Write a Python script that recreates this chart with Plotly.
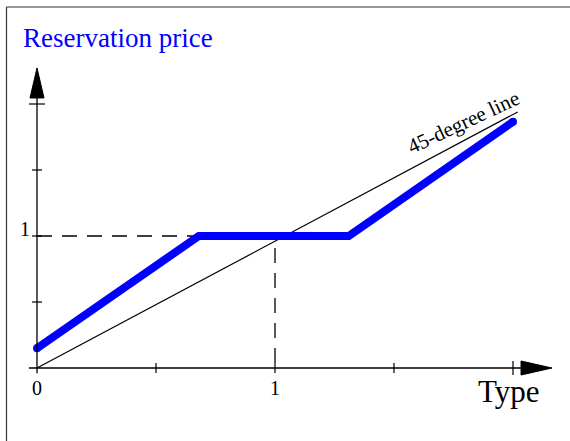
import plotly.graph_objects as go

# ---- data ----
type_x = [0.0, 0.68, 1.31, 2.0]          # Type
price_y = [0.15, 1.0, 1.0, 1.866]        # Reservation price
diag_x = [0.0, 2.02]                      # 45-degree line
diag_y = [0.0, 1.94]
x_ticks = [0.5, 1.0, 1.5, 2.0]
y_ticks = [0.5, 1.0, 1.5, 2.0]
ref_x = 1.0
ref_y = 1.0
x_tick_labels = {0.0: "0", 1.0: "1"}
y_tick_labels = {1.0: "1"}

W, H = 570, 441
FONT = "Liberation Serif"

fig = go.Figure()

# 45-degree line
fig.add_trace(go.Scatter(x=diag_x, y=diag_y, mode="lines",
                         line=dict(color="black", width=1.2),
                         hoverinfo="skip", showlegend=False))
# dashed reference lines
fig.add_trace(go.Scatter(x=[0, ref_x, ref_x], y=[ref_y, ref_y, 0], mode="lines",
                         line=dict(color="black", width=1.3, dash="15px,10px"),
                         hoverinfo="skip", showlegend=False))
# reservation price
fig.add_trace(go.Scatter(x=type_x, y=price_y, mode="lines",
                         line=dict(color="#0000ff", width=8),
                         hoverinfo="skip", showlegend=False))
fig.add_trace(go.Scatter(x=[type_x[0], type_x[-1]], y=[price_y[0], price_y[-1]],
                         mode="markers", marker=dict(color="#0000ff", size=8),
                         hoverinfo="skip", showlegend=False))

shapes = []
# axes
shapes.append(dict(type="line", xref="x", yref="y", x0=-0.034, x1=2.1, y0=0, y1=0,
                   line=dict(color="black", width=1.3)))
shapes.append(dict(type="line", xref="x", yref="y", x0=0, x1=0, y0=-0.04, y1=2.1,
                   line=dict(color="black", width=1.3)))
# arrowheads
shapes.append(dict(type="path", xref="x", yref="y", xsizemode="pixel", ysizemode="pixel",
                   xanchor=2.164, yanchor=0, path="M0,0 L-31,7 L-31,-7 Z",
                   fillcolor="black", line=dict(color="black", width=1)))
shapes.append(dict(type="path", xref="x", yref="y", xsizemode="pixel", ysizemode="pixel",
                   xanchor=0, yanchor=2.273, path="M0,0 L7,-30 L-7,-30 Z",
                   fillcolor="black", line=dict(color="black", width=1)))
# ticks
for t in x_ticks:
    h = 7 if t == x_ticks[-1] else 5
    shapes.append(dict(type="line", xref="x", yref="y", ysizemode="pixel", yanchor=0,
                       x0=t, x1=t, y0=-h, y1=h, line=dict(color="black", width=1.2)))
for t in y_ticks:
    w = 8 if t == y_ticks[-1] else 5
    shapes.append(dict(type="line", xref="x", yref="y", xsizemode="pixel", xanchor=0,
                       x0=-w, x1=w, y0=t, y1=t, line=dict(color="black", width=1.2)))
# frame (left and top)
shapes.append(dict(type="line", xref="paper", yref="paper", x0=6.5 / W, x1=6.5 / W,
                   y0=0, y1=1 - 7 / H, line=dict(color="#333333", width=1.2)))
shapes.append(dict(type="line", xref="paper", yref="paper", x0=6.5 / W, x1=1,
                   y0=1 - 7 / H, y1=1 - 7 / H, line=dict(color="#333333", width=1.2)))

annotations = []
for v, s in x_tick_labels.items():
    annotations.append(dict(x=v, y=0, xref="x", yref="y", text=s, showarrow=False,
                            yshift=-20, font=dict(family=FONT, size=20, color="black")))
for v, s in y_tick_labels.items():
    annotations.append(dict(x=0, y=v, xref="x", yref="y", text=s, showarrow=False,
                            xshift=-12, yshift=7, font=dict(family=FONT, size=20, color="black")))
annotations.append(dict(x=21 / W, y=1 - 38 / H, xref="paper", yref="paper",
                        text="Reservation price", showarrow=False, xanchor="left",
                        yanchor="middle", font=dict(family=FONT, size=27, color="#0000ff")))
annotations.append(dict(x=2.0, y=0, xref="x", yref="y", text="Type", showarrow=False,
                        xshift=-4, yshift=-23, font=dict(family=FONT, size=31, color="black")))
annotations.append(dict(x=1.794, y=1.864, xref="x", yref="y", text="45-degree line",
                        showarrow=False, textangle=-25,
                        font=dict(family=FONT, size=21, color="black")))

fig.update_layout(
    width=W, height=H, autosize=False,
    margin=dict(l=0, r=0, t=0, b=0),
    paper_bgcolor="white", plot_bgcolor="white",
    xaxis=dict(range=[-37 / 238, (W - 37) / 238], visible=False, fixedrange=True),
    yaxis=dict(range=[-(H - 368) / 132, 368 / 132], visible=False, fixedrange=True),
    shapes=shapes, annotations=annotations, showlegend=False,
)

fig.write_html("out.html", config={"displayModeBar": False},
               post_script="document.body.style.margin='0';document.body.style.overflow='hidden';")
